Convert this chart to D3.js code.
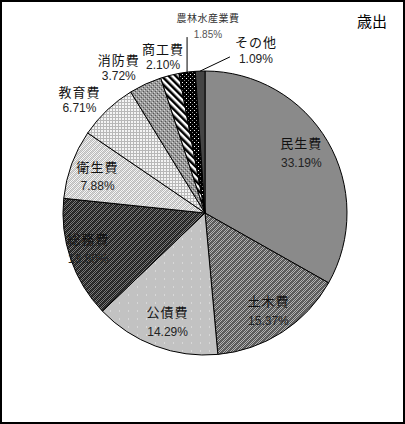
<!DOCTYPE html>
<html>
<head>
<meta charset="utf-8">
<script src="https://cdn.jsdelivr.net/npm/d3@7"></script>
<style>
  html, body { margin: 0; padding: 0; background: #fff; }
  svg { display: block; }
</style>
</head>
<body>
<div id="chart"></div>
<script>
// ---- data ------------------------------------------------------------
const categories = ['民生費', '土木費', '公債費', '総務費', '衛生費', '教育費', '消防費', '商工費', '農林水産業費', 'その他'];
const shares     = [33.19, 15.37, 14.29, 13.80, 7.88, 6.71, 3.72, 2.10, 1.85, 1.09];
const title = '歳出';

// ---- layout ----------------------------------------------------------
const width = 405, height = 424;
const cx = 205, cy = 213, r = 142;

// label placement: [radius factor, angle in degrees from 12 o'clock]
const labelPolar = [[0.80, 58], [0.82, 147], [0.81, 199], [0.86, 253], [0.80, 289],
                    [1.19, 312], [1.19, 329.3], [1.14, 345], [1.32, 0.9], [1.20, 17.4]];
// leader line ends for the crowded slices (offset from label point)
const leaders = { 8: [0, 11.5], 9: [-26, 6.5] };
// gap between name and percentage (half), inner / outer labels
const halfGap = i => i < 5 ? 10 : 8.5;

const svg = d3.select('#chart').append('svg')
  .attr('width', width)
  .attr('height', height)
  .attr('viewBox', [0, 0, width, height]);

const defs = svg.append('defs');

// checker helper: tile of given size filled with 1px checker, optional diagonal stripe
function checker(id, size, dark, light, stripe, op) {
  const p = defs.append('pattern').attr('id', id)
    .attr('patternUnits', 'userSpaceOnUse').attr('width', size).attr('height', size);
  p.append('rect').attr('width', size).attr('height', size).attr('fill', light);
  for (let i = 0; i < size; i++) {
    for (let j = 0; j < size; j++) {
      if ((i + j) % 2 === 0) p.append('rect').attr('x', i).attr('y', j).attr('width', 1).attr('height', 1).attr('fill', dark);
    }
  }
  if (stripe) {
    p.append('path').attr('d', `M0,${size} L${size},0 M${-size / 2},${size / 2} L${size / 2},${-size / 2} M${size / 2},${size * 1.5} L${size * 1.5},${size / 2}`)
      .attr('stroke', stripe).attr('stroke-width', 1).attr('stroke-opacity', op);
  }
  return p;
}

// 土木費
checker('p-doboku', 6, '#555', '#b4b4b4', '#333', 0.6);
// 総務費
checker('p-somu', 6, '#1e1e1e', '#7a7a7a', '#111', 0.6);
// 衛生費
checker('p-eisei', 6, '#bcbcbc', '#f6f6f6', '#aaa', 0.4);

// 公債費: light grey with faint dots
const pk = defs.append('pattern').attr('id', 'p-kosai')
  .attr('patternUnits', 'userSpaceOnUse').attr('width', 9).attr('height', 8);
pk.append('rect').attr('width', 9).attr('height', 8).attr('fill', '#c2c2c2');
pk.append('rect').attr('x', 4).attr('y', 1).attr('width', 1).attr('height', 2).attr('fill', '#d8d8d8');

// 教育費: fine grid
const pg = defs.append('pattern').attr('id', 'p-kyoiku')
  .attr('patternUnits', 'userSpaceOnUse').attr('width', 3).attr('height', 3);
pg.append('rect').attr('width', 3).attr('height', 3).attr('fill', '#f4f4f4');
pg.append('rect').attr('width', 3).attr('height', 1).attr('fill', '#b8b8b8');
pg.append('rect').attr('width', 1).attr('height', 3).attr('fill', '#b8b8b8');

// 消防費: mid grey dotted
const ps = defs.append('pattern').attr('id', 'p-shobo')
  .attr('patternUnits', 'userSpaceOnUse').attr('width', 4).attr('height', 4);
ps.append('rect').attr('width', 4).attr('height', 4).attr('fill', '#9a9a9a');
ps.append('rect').attr('x', 0).attr('y', 0).attr('width', 1).attr('height', 1).attr('fill', '#555');
ps.append('rect').attr('x', 2).attr('y', 2).attr('width', 1).attr('height', 1).attr('fill', '#555');
ps.append('rect').attr('x', 1).attr('y', 3).attr('width', 1).attr('height', 1).attr('fill', '#d4d4d4');
ps.append('rect').attr('x', 3).attr('y', 1).attr('width', 1).attr('height', 1).attr('fill', '#d4d4d4');

// 商工費: wide black/white diagonal stripes, "\" direction
const pc = defs.append('pattern').attr('id', 'p-shoko')
  .attr('patternUnits', 'userSpaceOnUse').attr('width', 5).attr('height', 5)
  .attr('patternTransform', 'rotate(-45)');
pc.append('rect').attr('width', 5).attr('height', 5).attr('fill', '#fff');
pc.append('rect').attr('width', 2.5).attr('height', 5).attr('fill', '#000');

// 農林水産業費: black with white dots
const pn = defs.append('pattern').attr('id', 'p-norin')
  .attr('patternUnits', 'userSpaceOnUse').attr('width', 4).attr('height', 4);
pn.append('rect').attr('width', 4).attr('height', 4).attr('fill', '#000');
pn.append('rect').attr('x', 1).attr('y', 1).attr('width', 1).attr('height', 1).attr('fill', '#fff');
pn.append('rect').attr('x', 3).attr('y', 3).attr('width', 1).attr('height', 1).attr('fill', '#888');

const fills = ['#8a8a8a', 'url(#p-doboku)', 'url(#p-kosai)', 'url(#p-somu)', 'url(#p-eisei)',
               'url(#p-kyoiku)', 'url(#p-shobo)', 'url(#p-shoko)', 'url(#p-norin)', '#444'];

// ---- frame -----------------------------------------------------------
svg.append('rect')
  .attr('x', 1).attr('y', 1).attr('width', width - 2).attr('height', height - 2)
  .attr('fill', '#fff').attr('stroke', '#000').attr('stroke-width', 2);

// ---- pie -------------------------------------------------------------
const pie = d3.pie().sort(null).value(d => d);
const arcs = pie(shares);
const arc = d3.arc().innerRadius(0).outerRadius(r);

const g = svg.append('g').attr('transform', `translate(${cx},${cy})`);

g.selectAll('path')
  .data(arcs)
  .join('path')
  .attr('d', arc)
  .attr('fill', (d, i) => fills[i])
  .attr('stroke', '#000')
  .attr('stroke-width', 1);

// ---- labels ----------------------------------------------------------
const polar = (f, deg) => {
  const a = deg * Math.PI / 180;
  return [f * r * Math.sin(a), -f * r * Math.cos(a)];
};

// leader lines: from the slice's outer midpoint toward its label
Object.entries(leaders).forEach(([k, off]) => {
  const i = +k;
  const d = arcs[i];
  const mid = (d.startAngle + d.endAngle) / 2;
  const [lx, ly] = polar(labelPolar[i][0], labelPolar[i][1]);
  const sx = r * Math.sin(mid), sy = -r * Math.cos(mid);
  const ex = i === 8 ? sx : lx + off[0];
  g.append('line')
    .attr('x1', sx).attr('y1', sy)
    .attr('x2', ex).attr('y2', ly + off[1])
    .attr('stroke', '#000').attr('stroke-width', 1);
});

const labels = g.append('g')
  .attr('text-anchor', 'middle')
  .selectAll('g')
  .data(arcs)
  .join('g')
  .attr('transform', (d, i) => `translate(${polar(labelPolar[i][0], labelPolar[i][1])})`);

labels.append('text')
  .attr('y', (d, i) => -halfGap(i))
  .attr('dominant-baseline', 'central')
  .attr('font-family', '"Noto Sans CJK JP", sans-serif')
  .attr('font-size', (d, i) => i === 8 ? 10 : 13)
  .attr('letter-spacing', (d, i) => i === 8 ? 0.5 : 1)
  .attr('fill', (d, i) => i === 8 ? '#333' : '#111')
  .text((d, i) => categories[i]);

labels.append('text')
  .attr('y', (d, i) => halfGap(i))
  .attr('dominant-baseline', 'central')
  .attr('font-family', '"Liberation Sans", Arial, sans-serif')
  .attr('font-size', (d, i) => i === 8 ? 10 : 12)
  .attr('fill', (d, i) => i === 8 ? '#555' : '#222')
  .text(d => d.data.toFixed(2) + '%');

// ---- title -----------------------------------------------------------
svg.append('text')
  .attr('x', 372).attr('y', 20)
  .attr('text-anchor', 'middle')
  .attr('dominant-baseline', 'central')
  .attr('font-family', '"Noto Sans CJK JP", sans-serif')
  .attr('font-size', 15)
  .attr('fill', '#000')
  .text(title);
</script>
</body>
</html>
